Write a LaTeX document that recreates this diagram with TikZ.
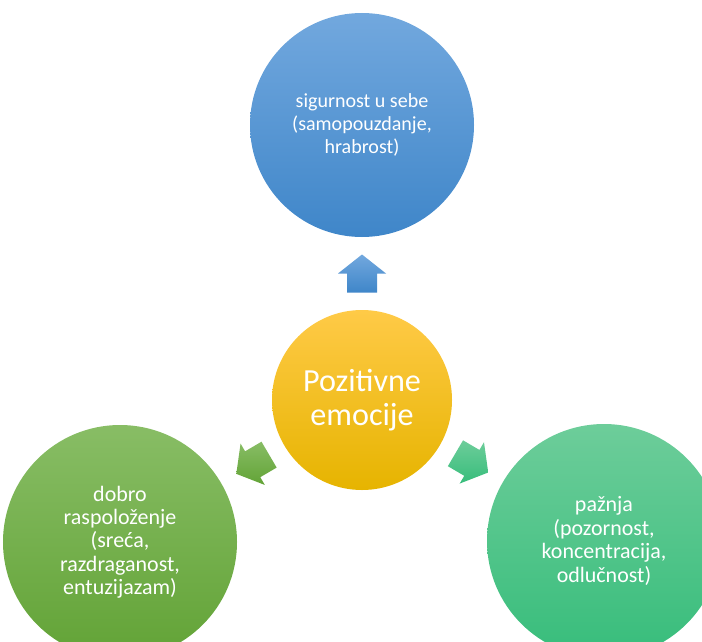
\documentclass[tikz,border=0pt]{standalone}
\usepackage{fontspec}
\setmainfont{Carlito}
\usetikzlibrary{positioning, calc}

\definecolor{blueTop}{HTML}{72A8DE}
\definecolor{blueBot}{HTML}{3F86C9}
\definecolor{goldTop}{HTML}{FFCA47}
\definecolor{goldBot}{HTML}{E6B400}
\definecolor{leafTop}{HTML}{88BD65}
\definecolor{leafBot}{HTML}{62A336}
\definecolor{mintTop}{HTML}{6DCD9A}
\definecolor{mintBot}{HTML}{37BD7B}

% block arrow: centre, direction, top colour, bottom colour
\newcommand{\flowarrow}[4]{%
  \shade[top color=#3, bottom color=#4]
    ($(#1)+(#2:0.38)$) -- ($(#1)+(#2+90:0.48)$) -- ($(#1)+(#2+90:0.30)$)
    -- ($(#1)+(#2:-0.38)+(#2+90:0.30)$) -- ($(#1)+(#2:-0.38)+(#2-90:0.30)$)
    -- ($(#1)+(#2-90:0.30)$) -- ($(#1)+(#2-90:0.48)$) -- cycle;}

\begin{document}
\begin{tikzpicture}[
    bubble/.style={circle, inner sep=0pt, text=white, align=center, font=\fontsize{12.5}{13.3}\selectfont}
]
    \useasboundingbox (0,0) rectangle (14.04,-12.82);

    \node[bubble, minimum size=3.6cm, top color=goldTop, bottom color=goldBot,
        font=\fontsize{18.3}{19}\selectfont] (emo) at (7.24,-8.00) {Pozitivne\\emocije};
    \node[bubble, minimum size=4.48cm, top color=blueTop, bottom color=blueBot,
        font=\fontsize{11.4}{13.3}\selectfont] (safe) at (7.24,-2.50)
        {sigurnost u sebe\\(samopouzdanje,\\hrabrost)};
    \node[bubble, minimum size=4.68cm, top color=leafTop, bottom color=leafBot] (mood) at (2.40,-10.84)
        {dobro\\raspoloženje\\(sreća,\\razdraganost,\\entuzijazam)};
    \node[bubble, minimum size=4.68cm, top color=mintTop, bottom color=mintBot] (focus) at (12.08,-10.82)
        {pažnja\\(pozornost,\\koncentracija,\\odlučnost)};

    % arrows between the bubbles
    \coordinate (upMid) at ($(emo.north)!0.5!(safe.south)$);
    \coordinate (leftMid) at ($(emo.210.4)!0.5!(mood.30.4)$);
    \coordinate (rightMid) at ($(emo.-30.4)!0.5!(focus.149.6)$);
    \flowarrow{upMid}{90}{blueTop}{blueBot}
    \flowarrow{leftMid}{210.4}{leafTop}{leafBot}
    \flowarrow{rightMid}{-30.4}{mintTop}{mintBot}
\end{tikzpicture}
\end{document}
